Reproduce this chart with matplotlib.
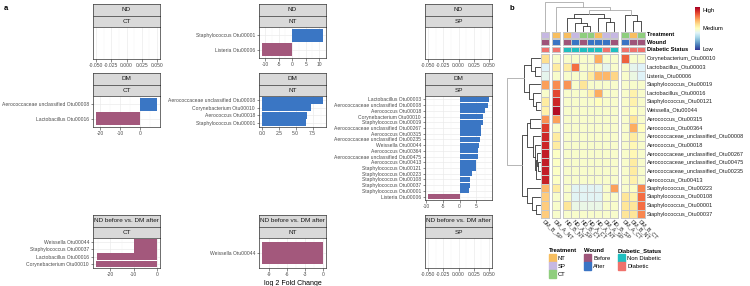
import numpy as np
import matplotlib.pyplot as plt
from matplotlib.colors import ListedColormap, Normalize
from matplotlib.cm import ScalarMappable

plt.rcParams['font.family'] = ['Liberation Sans', 'DejaVu Sans']

W, H = 750, 286
fig = plt.figure(figsize=(W / 100, H / 100), dpi=100)

# ---------------- panel a: log2 fold change per comparison ----------------
nd_nt_otus = ['Staphylococcus Otu00001', 'Listeria Otu00006']
nd_nt_lfc = [11.4, -11.2]

dm_ct_otus = ['Aerococcaceae unclassified Otu00008', 'Lactobacillus Otu00016']
dm_ct_lfc = [8.5, -22.2]

dm_nt_otus = ['Aerococcaceae unclassified Otu00008', 'Corynebacterium Otu00010',
              'Aerococcus Otu00018', 'Staphylococcus Otu00001']
dm_nt_lfc = [9.05, 7.3, 6.75, 6.6]

dm_sp_otus = ['Lactobacillus Otu00003', 'Aerococcaceae unclassified Otu00008',
              'Aerococcus Otu00018', 'Corynebacterium Otu00010', 'Staphylococcus Otu00019',
              'Aerococcaceae unclassified Otu00267', 'Aerococcus Otu00315',
              'Aerococcaceae unclassified Otu00235', 'Weissella Otu00044',
              'Aerococcus Otu00364', 'Aerococcaceae unclassified Otu00475',
              'Aerococcus Otu00413', 'Staphylococcus Otu00121', 'Staphylococcus Otu00223',
              'Staphylococcus Otu00108', 'Staphylococcus Otu00037', 'Staphylococcus Otu00001',
              'Listeria Otu00006']
dm_sp_lfc = [8.8, 8.6, 7.6, 7.0, 6.9, 6.5, 6.4, 6.0, 5.7, 5.6, 5.5, 5.0, 4.8,
             3.6, 3.2, 3.0, 2.9, -9.4]

ba_ct_otus = ['Weissella Otu00044', 'Staphylococcus Otu00037',
              'Lactobacillus Otu00016', 'Corynebacterium Otu00010']
ba_ct_lfc = [-9.6, -9.9, -25.6, -26.0]

ba_nt_otus = ['Weissella Otu00044']
ba_nt_lfc = [-10.2]

# ---------------- panel b: heatmap ----------------
samples = ['DM_B_SP', 'DM_A_NT', 'ND_B_NT', 'ND_A_SP', 'ND_B_CT', 'ND_A_CT',
           'ND_A_NT', 'DM_A_SP', 'ND_B_SP', 'DM_A_CT', 'DM_B_NT', 'DM_B_CT']
treatment = ['SP', 'NT', 'NT', 'SP', 'CT', 'CT', 'NT', 'SP', 'SP', 'CT', 'NT', 'CT']
wound = ['Before', 'After', 'Before', 'After', 'Before', 'After', 'After', 'After',
         'Before', 'After', 'Before', 'Before']
diabetic = ['Diabetic', 'Diabetic', 'Non Diabetic', 'Non Diabetic', 'Non Diabetic',
            'Non Diabetic', 'Non Diabetic', 'Diabetic', 'Non Diabetic', 'Diabetic',
            'Diabetic', 'Diabetic']

otus = ['Corynebacterium_Otu00010', 'Lactobacillus_Otu00003', 'Listeria_Otu00006',
        'Staphylococcus_Otu00019', 'Lactobacillus_Otu00016', 'Staphylococcus_Otu00121',
        'Weissella_Otu00044', 'Aerococcus_Otu00315', 'Aerococcus_Otu00364',
        'Aerococcaceae_unclassified_Otu00008', 'Aerococcus_Otu00018',
        'Aerococcaceae_unclassified_Otu00267', 'Aerococcaceae_unclassified_Otu00475',
        'Aerococcaceae_unclassified_Otu00235', 'Aerococcus_Otu00413',
        'Staphylococcus_Otu00223', 'Staphylococcus_Otu00108', 'Staphylococcus_Otu00001',
        'Staphylococcus_Otu00037']

# scaled abundance, 0 = low, 0.5 = medium, 1 = high
abund = np.array([
    [0.60, 0.48, 0.48, 0.48, 0.48, 0.48, 0.70, 0.48, 0.48, 0.82, 0.48, 0.48],
    [0.40, 0.56, 0.56, 0.80, 0.48, 0.48, 0.48, 0.42, 0.48, 0.48, 0.42, 0.40],
    [0.42, 0.48, 0.48, 0.48, 0.48, 0.56, 0.68, 0.68, 0.62, 0.48, 0.44, 0.40],
    [0.72, 0.75, 0.74, 0.48, 0.58, 0.48, 0.48, 0.48, 0.48, 0.48, 0.48, 0.48],
    [0.48, 0.86, 0.48, 0.48, 0.48, 0.54, 0.70, 0.48, 0.48, 0.48, 0.54, 0.48],
    [0.56, 0.92, 0.48, 0.48, 0.48, 0.48, 0.50, 0.48, 0.48, 0.48, 0.54, 0.48],
    [0.54, 0.97, 0.48, 0.48, 0.48, 0.48, 0.48, 0.48, 0.48, 0.48, 0.50, 0.48],
    [0.74, 0.72, 0.48, 0.48, 0.48, 0.48, 0.48, 0.48, 0.48, 0.48, 0.58, 0.48],
    [0.88, 0.48, 0.48, 0.48, 0.48, 0.48, 0.48, 0.48, 0.48, 0.48, 0.70, 0.50],
    [0.92, 0.56, 0.48, 0.48, 0.48, 0.48, 0.48, 0.48, 0.48, 0.48, 0.56, 0.48],
    [0.92, 0.56, 0.48, 0.48, 0.48, 0.48, 0.48, 0.48, 0.48, 0.48, 0.52, 0.48],
    [0.94, 0.49, 0.48, 0.48, 0.48, 0.48, 0.48, 0.48, 0.48, 0.48, 0.52, 0.48],
    [0.94, 0.49, 0.48, 0.48, 0.48, 0.48, 0.48, 0.48, 0.48, 0.48, 0.56, 0.48],
    [0.94, 0.49, 0.48, 0.48, 0.48, 0.48, 0.48, 0.48, 0.48, 0.48, 0.56, 0.48],
    [0.93, 0.49, 0.48, 0.48, 0.48, 0.48, 0.48, 0.48, 0.48, 0.48, 0.54, 0.48],
    [0.68, 0.56, 0.48, 0.41, 0.41, 0.41, 0.41, 0.48, 0.72, 0.48, 0.49, 0.76],
    [0.64, 0.48, 0.48, 0.41, 0.41, 0.41, 0.41, 0.48, 0.48, 0.58, 0.54, 0.80],
    [0.64, 0.48, 0.58, 0.43, 0.43, 0.43, 0.43, 0.48, 0.48, 0.58, 0.58, 0.80],
    [0.64, 0.48, 0.48, 0.48, 0.48, 0.48, 0.48, 0.48, 0.48, 0.58, 0.58, 0.76],
])

# dendrogram merges: (node a, node b, height in px)
row_merges = [(1, 2, 5), (0, 19, 9), (5, 6, 4), (4, 21, 7), (3, 22, 11), (20, 23, 16),
              (12, 13, 2), (11, 25, 3), (14, 26, 4), (10, 27, 5), (9, 28, 7),
              (7, 8, 10), (30, 29, 13), (17, 18, 4), (16, 32, 8), (15, 33, 13),
              (31, 34, 18), (24, 35, 33)]
col_merges = [(4, 5, 5), (3, 12, 8), (2, 13, 13), (7, 8, 9), (6, 15, 13), (14, 16, 17),
              (10, 11, 10), (9, 18, 16), (17, 19, 21), (1, 20, 24), (0, 21, 29)]

treat_levels = ['NT', 'SP', 'CT']
treat_colors = ['#F7BE5F', '#C6B8E2', '#8FCE7E']
wound_levels = ['Before', 'After']
wound_colors = ['#9E5479', '#3A74C4']
diab_levels = ['Non Diabetic', 'Diabetic']
diab_colors = ['#1EBFC0', '#F0726C']

BLUE = '#3A76C4'
MAUVE = '#A3587C'


def px_axes(x0, y0, x1, y1):
    return fig.add_axes([x0 / W, 1 - y1 / H, (x1 - x0) / W, (y1 - y0) / H])


# background axes in pixel units for labels + heatmap
bg = fig.add_axes([0, 0, 1, 1], zorder=-1)
bg.set_xlim(0, W)
bg.set_ylim(H, 0)
bg.axis('off')


def facet(x0, x1, y0, y1, strips, names=None, vals=None, ticks=None, labels=None):
    sh = 11.5
    for k, s in enumerate(strips):
        top = y0 - (len(strips) - k) * sh
        sa = px_axes(x0, top, x1, top + sh)
        sa.set_facecolor('#D9D9D9')
        sa.set_xticks([])
        sa.set_yticks([])
        for sp in sa.spines.values():
            sp.set_color('#333333')
            sp.set_linewidth(0.5)
        sa.text(0.5, 0.5, s, ha='center', va='center', fontsize=4.6, color='#1A1A1A',
                transform=sa.transAxes)
    ax = px_axes(x0, y0, x1, y1)
    ax.set_axisbelow(True)
    if names is None:
        ax.set_xlim(-0.055, 0.055)
        ax.set_ylim(0, 1)
        ax.set_yticks([])
        ticks = [-0.05, -0.025, 0.0, 0.025, 0.05]
        labels = ['-0.050', '-0.025', '0.000', '0.025', '0.050']
    else:
        n = len(names)
        ypos = np.arange(n, 0, -1)
        ax.barh(ypos, vals, height=0.9, color=[BLUE if v > 0 else MAUVE for v in vals])
        lo, hi = min(0, min(vals)), max(0, max(vals))
        pad = 0.05 * (hi - lo)
        ax.set_xlim(lo - pad, hi + pad)
        ax.set_ylim(0.4, n + 0.6)
        ax.set_yticks(ypos)
        ax.set_yticklabels(names)
        for yy in ypos:
            ax.axhline(yy, color='#EBEBEB', lw=0.5, zorder=0)
    ax.set_xticks(ticks)
    ax.set_xticklabels(labels if labels else ['{:g}'.format(t) for t in ticks])
    step = ticks[1] - ticks[0]
    lo, hi = ax.get_xlim()
    for t in np.arange(ticks[0] - step, ticks[-1] + step * 1.01, step):
        if lo <= t <= hi:
            ax.axvline(t, color='#EBEBEB', lw=0.5, zorder=0)
        if lo <= t + step / 2 <= hi:
            ax.axvline(t + step / 2, color='#F2F2F2', lw=0.3, zorder=0)
    ax.tick_params(length=1.8, width=0.4, color='#333333', labelsize=3.6,
                   labelcolor='#4D4D4D', pad=1)
    for sp in ax.spines.values():
        sp.set_color('#333333')
        sp.set_linewidth(0.5)
    return ax


cols = {'CT': (93, 160), 'NT': (259, 326), 'SP': (425, 492)}

facet(*cols['CT'], 27, 59, ['ND', 'CT'])
facet(*cols['NT'], 27, 58, ['ND', 'NT'], nd_nt_otus, nd_nt_lfc, [-10, -5, 0, 5, 10])
facet(*cols['SP'], 27, 59, ['ND', 'SP'])

facet(*cols['CT'], 96, 127, ['DM', 'CT'], dm_ct_otus, dm_ct_lfc, [-20, -10, 0])
facet(*cols['NT'], 96, 127, ['DM', 'NT'], dm_nt_otus, dm_nt_lfc, [0, 2.5, 5, 7.5],
      ['0.0', '2.5', '5.0', '7.5'])
facet(*cols['SP'], 96, 200, ['DM', 'SP'], dm_sp_otus, dm_sp_lfc, [-10, -5, 0, 5])

facet(*cols['CT'], 238, 268, ['ND before vs. DM after', 'CT'], ba_ct_otus, ba_ct_lfc,
      [-20, -10, 0])
ax_nt3 = facet(*cols['NT'], 238, 268, ['ND before vs. DM after', 'NT'], ba_nt_otus,
               ba_nt_lfc, [-9, -6, -3, 0])
ax_nt3.set_xlabel('log 2 Fold Change', fontsize=5, labelpad=2)
facet(*cols['SP'], 238, 268, ['ND before vs. DM after', 'SP'])

bg.text(4, 8, 'a', fontsize=5.5, fontweight='bold', va='center')
bg.text(510, 8, 'b', fontsize=5.5, fontweight='bold', va='center')

# ---------------- heatmap drawing ----------------
cmap = plt.get_cmap('RdYlBu_r')
norm = Normalize(0, 1)
col_w, gap, hm_x0 = 7.9, 3.0, 541.0
row_h, hm_y0 = 8.65, 54.0
groups = [(0, 1), (1, 2), (2, 9), (9, 12)]
grid = '#C8C8C8'

xs = []
x = hm_x0
for a, b in groups:
    for j in range(a, b):
        xs.append(x)
        x += col_w
    x += gap
xs = np.array(xs)
col_centers = xs + col_w / 2
row_edges = hm_y0 + np.arange(len(otus) + 1) * row_h
row_centers = (row_edges[:-1] + row_edges[1:]) / 2

ann = [('Treatment', treatment, treat_levels, treat_colors, 32.0),
       ('Wound', wound, wound_levels, wound_colors, 39.3),
       ('Diabetic Status', diabetic, diab_levels, diab_colors, 46.6)]

for a, b in groups:
    xe = xs[a] + np.arange(b - a + 1) * col_w
    bg.pcolormesh(xe, row_edges, abund[:, a:b], cmap=cmap, norm=norm,
                  edgecolors=grid, linewidth=0.5)
    for name, vals, levels, colors, y0 in ann:
        codes = np.array([[levels.index(v) for v in vals[a:b]]])
        bg.pcolormesh(xe, [y0, y0 + 5.6], codes, cmap=ListedColormap(colors),
                      vmin=-0.5, vmax=len(levels) - 0.5, edgecolors=grid, linewidth=0.4)

for name, vals, levels, colors, y0 in ann:
    bg.text(xs[-1] + col_w + 2, y0 + 2.8, name, fontsize=4.1, fontweight='bold',
            va='center', ha='left')
for name, yc in zip(otus, row_centers):
    bg.text(xs[-1] + col_w + 2, yc, name, fontsize=4.0, va='center', ha='left',
            color='#222222')
for name, xc in zip(samples, col_centers):
    bg.text(xc - 2, row_edges[-1] + 2, name, fontsize=4, rotation=-45,
            rotation_mode='anchor', ha='left', va='center', color='#222222')


def draw_tree(merges, leaf_pos, base, vertical, light_from):
    pos = list(leaf_pos)
    hgt = [0.0] * len(leaf_pos)
    for a, b, h in merges:
        c = '#AAAAAA' if h >= light_from else '#333333'
        if vertical:
            bg.plot([pos[a], pos[a], pos[b], pos[b]],
                    [base - hgt[a], base - h, base - h, base - hgt[b]], color=c, lw=0.6)
        else:
            bg.plot([base - hgt[a], base - h, base - h, base - hgt[b]],
                    [pos[a], pos[a], pos[b], pos[b]], color=c, lw=0.6)
        pos.append((pos[a] + pos[b]) / 2)
        hgt.append(h)


draw_tree(row_merges, row_centers, hm_x0 - 1.5, False, 30)
draw_tree(col_merges, col_centers, 31.0, True, 21)

# colour key
cax = px_axes(695, 7, 700, 50)
cb = fig.colorbar(ScalarMappable(norm, cmap), cax=cax)
cb.outline.set_visible(False)
cb.set_ticks([0.93, 0.5, 0.03])
cb.set_ticklabels(['High', 'Medium', 'Low'])
cb.ax.tick_params(length=0, labelsize=4.2, pad=2)

# annotation legends
leg = [('Treatment', treat_levels, treat_colors, 549),
       ('Wound', wound_levels, wound_colors, 584),
       ('Diabetic_Status', diab_levels, diab_colors, 618)]
for title, levels, colors, lx in leg:
    bg.text(lx, 251, title, fontsize=4.2, fontweight='bold', va='center')
    for k, (lv, c) in enumerate(zip(levels, colors)):
        yk = 254 + k * 8
        bg.add_patch(plt.Rectangle((lx, yk), 7, 8, color=c))
        bg.text(lx + 9, yk + 4, lv, fontsize=4.2, va='center')

fig.savefig('out.png', dpi=100)
